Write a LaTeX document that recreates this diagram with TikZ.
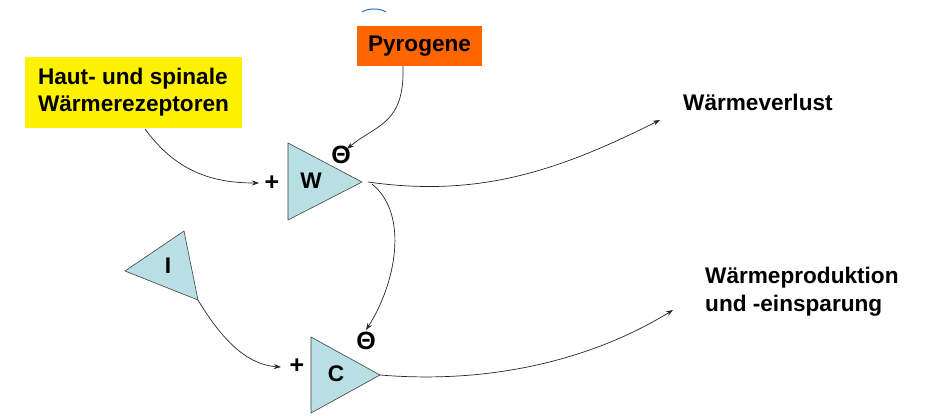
\documentclass[tikz,border=0pt]{standalone}
\usepackage{fontspec}
\setmainfont{Liberation Sans}
\usetikzlibrary{arrows.meta}
\definecolor{tri}{HTML}{B8DFE3}
\definecolor{orng}{HTML}{FF6600}
\definecolor{arcblue}{HTML}{2A6FC0}
\tikzset{
  lbl/.style={font=\bfseries\fontsize{22.6}{25}\selectfont, inner sep=0pt},
  sym/.style={font=\bfseries\fontsize{25}{27}\selectfont, inner sep=0pt},
  tribox/.style={fill=tri, draw=black!75, line width=0.6pt, line join=miter},
  conn/.style={draw=black!85, line width=0.7pt, -{Stealth[length=7pt,width=5pt]}},
}
\begin{document}
\begin{tikzpicture}[x=1pt,y=-1pt]
\useasboundingbox (0,0) rectangle (925,415);
% small blue arc fragment
\draw[arcblue, line width=1pt] (362,12) .. controls (368,8) and (380,8) .. (386,12);
% boxes
\node[fill=yellow, minimum width=217pt, minimum height=71pt, inner sep=0pt,
      align=left, lbl] (haut) at (133.5,92.5)
  {Haut- und spinale\\[2pt]Wärmerezeptoren};
\node[fill=orng, minimum width=125pt, minimum height=40pt, inner sep=0pt, lbl] (pyro) at (419.5,46) {Pyrogene};
% triangles
\coordinate (Wa) at (288,143); \coordinate (Wb) at (288,220); \coordinate (Wt) at (362,182);
\draw[tribox] (Wa) -- (Wt) -- (Wb) -- cycle;
\node[lbl] (W) at (311,181) {W};
\coordinate (Ia) at (125,271); \coordinate (Ib) at (184,231); \coordinate (It) at (198,300);
\draw[tribox] (Ia) -- (Ib) -- (It) -- cycle;
\node[lbl] (I) at (168,266) {I};
\coordinate (Ca) at (311,337); \coordinate (Cb) at (311,413); \coordinate (Ct) at (380,375);
\draw[tribox] (Ca) -- (Ct) -- (Cb) -- cycle;
\node[lbl] (C) at (336,374) {C};
% signs
\node[sym] (pW) at (272,183) {+};
\node[sym] (mW) at (341,155) {Θ};
\node[sym] (pC) at (297,366) {+};
\node[sym] (mC) at (366,341) {Θ};
% outputs
\node[lbl, anchor=west] (verl) at (683,102) {Wärmeverlust};
\node[lbl, anchor=north west, align=left] (prod) at (705,267) {Wärmeproduktion\\[3pt]und -einsparung};
\coordinate (verlE) at (660,120);
\coordinate (prodE) at (673,310);
\coordinate (hautS) at (145,129);
\coordinate (pWin) at (259,183);
\coordinate (pCin) at (281,367);
\coordinate (WtR) at (368,182);
\coordinate (WtD) at (372,184);
% connectors
\draw[conn] (hautS) .. controls (175,170) and (210,183) .. (pWin);
\draw[conn] (pyro.south -| 403,0) .. controls (405,125) and (375,125) .. ([xshift=6pt,yshift=-3pt]mW.north);
\draw[conn] (WtR) .. controls (480,198) and (560,170) .. (verlE);
\draw[conn] (WtD) .. controls (410,215) and (395,285) .. ([yshift=2pt]mC.north);
\draw[conn] (It) .. controls (225,345) and (250,365) .. (pCin);
\draw[conn] (Ct) .. controls (500,385) and (600,355) .. (prodE);
\end{tikzpicture}
\end{document}
